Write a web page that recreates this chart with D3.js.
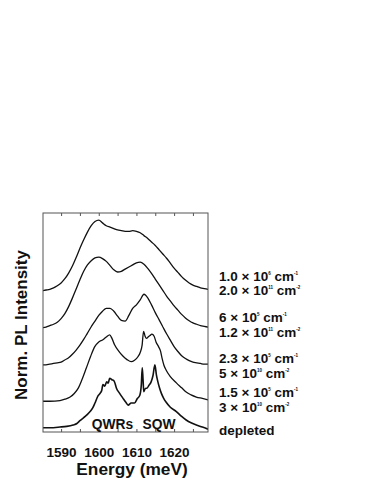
<!DOCTYPE html>
<html>
<head>
<meta charset="utf-8">
<script src="https://cdn.jsdelivr.net/npm/d3@7"></script>
<style>
  html, body { margin: 0; padding: 0; background: #fff; }
  svg { display: block; }
  text { font-family: "Liberation Sans", Arial, Helvetica, sans-serif; fill: #111; font-weight: bold; }
</style>
</head>
<body>
<div id="chart"></div>
<script>
// ---------------- data ----------------
const energyGrid = [1585,1586,1587,1588,1589,1590,1591,1592,1593,1594,1595,1596,1597,1598,1599,
  1600,1601,1602,1603,1604,1605,1606,1607,1608,1609,1610,1611,1612,1613,1614,1615,1616,1617,1618,
  1619,1620,1621,1622,1623,1624,1625,1626,1627,1628,1629];

// top curve: 1.0e6 cm^-1 / 2.0e11 cm^-2
const intensity1 = [0.0,0.01,0.02,0.04,0.07,0.11,0.17,0.25,0.35,0.47,0.60,0.72,0.83,0.92,0.98,
  1.0,0.96,0.92,0.90,0.88,0.86,0.85,0.84,0.84,0.85,0.84,0.82,0.78,0.74,0.69,0.64,0.58,0.52,0.46,
  0.39,0.32,0.26,0.20,0.15,0.11,0.08,0.06,0.04,0.03,0.02];

// 6e5 cm^-1 / 1.2e11 cm^-2
const intensity2 = [0.0,0.01,0.03,0.05,0.08,0.13,0.20,0.30,0.42,0.55,0.68,0.80,0.89,0.95,0.99,
  1.0,0.98,0.94,0.88,0.82,0.79,0.80,0.83,0.86,0.89,0.92,0.93,0.90,0.84,0.77,0.69,0.61,0.53,0.45,
  0.38,0.31,0.25,0.19,0.14,0.10,0.07,0.05,0.03,0.02,0.01];

// 2.3e5 cm^-1 / 5e10 cm^-2
const intensity3 = [0.0,0.0,0.01,0.02,0.03,0.04,0.07,0.10,0.15,0.21,0.28,0.36,0.45,0.54,0.62,
  0.70,0.76,0.80,0.80,0.76,0.69,0.63,0.62,0.70,0.80,0.85,0.92,1.0,0.95,0.85,0.74,0.64,0.54,0.44,
  0.35,0.26,0.19,0.13,0.09,0.06,0.04,0.03,0.02,0.01,0.01];

// 1.5e5 cm^-1 / 3e10 cm^-2
const energy4 = [1585,1587,1589.7,1591,1592.4,1593.5,1594.6,1595.5,1596.7,1597.8,1598.9,1600,1601.1,
  1602,1602.9,1603.5,1604.2,1605.3,1606.4,1607.5,1608.6,1609.5,1610.4,1611,1611.5,1611.9,1612.3,
  1612.7,1613.1,1613.6,1614.1,1614.7,1615.2,1615.9,1616.4,1616.8,1617.3,1617.9,1619,1620.6,1622,
  1623.2,1624.5,1625.9,1627.5,1629];
const intensity4 = [0.01,0.01,0.02,0.04,0.07,0.12,0.20,0.31,0.48,0.64,0.78,0.85,0.88,0.92,0.95,
  0.90,0.81,0.72,0.65,0.60,0.57,0.59,0.64,0.70,0.80,1.0,0.93,0.90,0.92,0.94,0.96,0.93,0.85,0.78,
  0.72,0.62,0.52,0.45,0.36,0.27,0.20,0.14,0.10,0.07,0.05,0.03];

// depleted
const energy5 = [1585.2,1587,1589.7,1591.5,1593.2,1594.2,1595,1595.7,1596.4,1597,1597.7,1598.4,
  1599,1599.8,1600.4,1600.8,1601.1,1601.6,1602.1,1602.5,1602.9,1603.5,1604.1,1604.7,1605.5,1606.4,
  1607.2,1607.8,1608.6,1609.5,1610.2,1610.9,1611.3,1611.55,1611.75,1611.95,1612.2,1612.5,1612.8,
  1613.3,1613.9,1614.4,1614.9,1615.3,1615.7,1616.1,1616.6,1617.2,1617.9,1619,1620.6,1622,1623.2,
  1624.5,1625.9,1627.5,1629];
const intensity5 = [0.06,0.06,0.07,0.08,0.10,0.12,0.16,0.19,0.22,0.25,0.29,0.34,0.41,0.51,0.55,
  0.59,0.67,0.65,0.71,0.69,0.76,0.74,0.72,0.62,0.55,0.48,0.42,0.38,0.41,0.41,0.47,0.52,0.67,0.91,
  0.75,0.57,0.60,0.62,0.62,0.66,0.71,0.80,0.95,0.81,0.71,0.63,0.55,0.48,0.42,0.35,0.29,0.22,0.17,
  0.13,0.10,0.07,0.04];

// vertical offsets of the stacked spectra (normalized units)
const offsets = [2.0, 1.475, 0.95, 0.425, 0.0];

const majorTicks = [1590, 1600, 1610, 1620];
const minorTicks = [1595, 1605, 1615, 1625];

const linearDensity = ["1.0 × 10", "6 × 10", "2.3 × 10", "1.5 × 10"];
const linearExp = ["6", "5", "5", "5"];
const sheetDensity = ["2.0 × 10", "1.2 × 10", "5 × 10", "3 × 10"];
const sheetExp = ["11", "11", "10", "10"];
const depletedLabel = "depleted";
const peakLabels = ["QWRs", "SQW"];
const xTitle = "Energy (meV)";
const yTitle = "Norm. PL Intensity";

// ---------------- drawing ----------------
const W = 382, H = 494;
const L = 43, R = 208, T = 213, B = 432;

const svg = d3.select("#chart").append("svg").attr("width", W).attr("height", H);

const x = d3.scaleLinear().domain([1585.2, 1629]).range([L, R]);
const y = d3.scaleLinear().domain([0, 3.1]).range([B, T]);

svg.append("defs").append("clipPath").attr("id", "plotclip")
  .append("rect").attr("x", L).attr("y", T).attr("width", R - L).attr("height", B - T);

const series = [
  { e: energyGrid, v: intensity1 },
  { e: energyGrid, v: intensity2 },
  { e: energyGrid, v: intensity3 },
  { e: energy4, v: intensity4 },
  { e: energy5, v: intensity5 }
];

const line = d3.line().curve(d3.curveMonotoneX);
const g = svg.append("g").attr("clip-path", "url(#plotclip)");
series.forEach((s, i) => {
  const pts = s.e.map((e, k) => [x(e), y(s.v[k] + offsets[i])]);
  g.append("path")
    .attr("d", line(pts))
    .attr("fill", "none")
    .attr("stroke", "#111")
    .attr("stroke-width", i === 4 ? 1.6 : 1.3)
    .attr("stroke-linejoin", "round");
});

// frame
svg.append("rect").attr("x", L).attr("y", T).attr("width", R - L).attr("height", B - T)
  .attr("fill", "none").attr("stroke", "#555").attr("stroke-width", 1);

// ticks (inward) top and bottom
const allTicks = majorTicks.concat(minorTicks);
const bottomAxis = svg.append("g").attr("transform", `translate(0,${B})`)
  .call(d3.axisBottom(x).tickValues(allTicks).tickSize(-3).tickPadding(15.5)
    .tickFormat(d => majorTicks.includes(d) ? String(d) : ""));
const topAxis = svg.append("g").attr("transform", `translate(0,${T})`)
  .call(d3.axisTop(x).tickValues(allTicks).tickSize(-3).tickFormat(""));
[bottomAxis, topAxis].forEach(a => {
  a.select(".domain").remove();
  a.selectAll(".tick line").attr("stroke", "#555");
});
bottomAxis.selectAll(".tick text")
  .style("font-family", '"Liberation Sans", Arial, sans-serif')
  .style("font-weight", "bold")
  .style("font-size", "13.5px").attr("fill", "#111");

// axis titles
svg.append("text").attr("x", 132).attr("y", 475).attr("text-anchor", "middle")
  .style("font-size", "17.3px").text(xTitle);
svg.append("text").attr("transform", "translate(27,325) rotate(-90)").attr("text-anchor", "middle")
  .style("font-size", "17px").text(yTitle);

// peak labels
svg.append("text").attr("x", 112.5).attr("y", 429).attr("text-anchor", "middle")
  .style("font-size", "13.8px").text(peakLabels[0]);
svg.append("text").attr("x", 159).attr("y", 429).attr("text-anchor", "middle")
  .style("font-size", "13.8px").text(peakLabels[1]);

// density labels: one two-line label per spectrum
const labelX = 219;
const pairBaselines = [[281, 295], [322, 337], [363, 378], [397, 411.5]];
function addLine(t, yb, base, exp, unitExp) {
  t.append("tspan").attr("x", labelX).attr("y", yb).text(base);
  t.append("tspan").attr("dy", -6).style("font-size", "4.5px").text(exp);
  t.append("tspan").attr("dy", 6).text(" cm");
  t.append("tspan").attr("dy", -6).style("font-size", "4.5px").text(unitExp);
}
linearDensity.forEach((d, i) => {
  const t = svg.append("text").style("font-size", "13.5px");
  addLine(t, pairBaselines[i][0], d, linearExp[i], "-1");
  addLine(t, pairBaselines[i][1], sheetDensity[i], sheetExp[i], "-2");
});
svg.append("text").attr("x", labelX).attr("y", 435).style("font-size", "13.5px").text(depletedLabel);
</script>
</body>
</html>
